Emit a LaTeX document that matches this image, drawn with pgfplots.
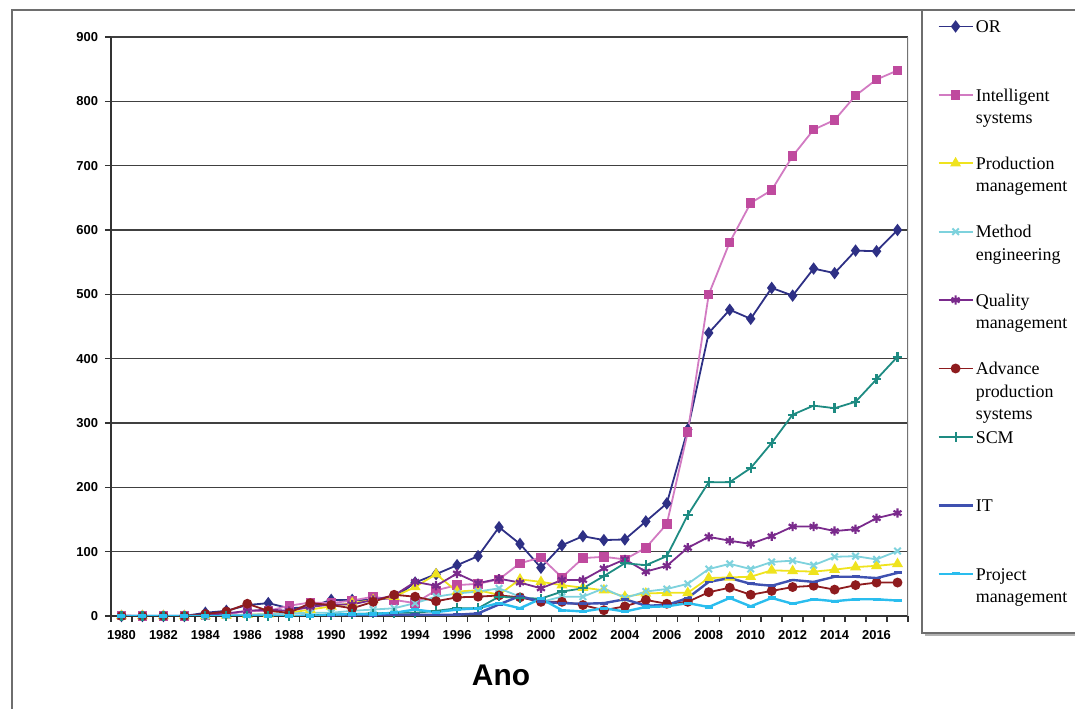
\documentclass[border=0pt]{standalone}
\usepackage{pgfplots}
\pgfplotsset{compat=1.18}
\usepackage{pgfplotstable}
\usepackage{fontspec}
\setmainfont{Liberation Serif}
\setsansfont{Liberation Sans}

\definecolor{ornavy}{HTML}{2E3085}
\definecolor{isline}{HTML}{D27BC2}
\definecolor{ismark}{HTML}{BF4A9E}
\definecolor{pmyel}{HTML}{EFE31E}
\definecolor{mecyan}{HTML}{7ED2DD}
\definecolor{qmpurp}{HTML}{7A2A8C}
\definecolor{apsred}{HTML}{8E1B1E}
\definecolor{scmteal}{HTML}{1E8B82}
\definecolor{itblue}{HTML}{3F51B0}
\definecolor{pjblue}{HTML}{2ABDEE}
\definecolor{frame}{HTML}{6E6E6E}

% publications per year and area
\pgfplotstableread{
year OR  IS  PM  ME  QM  APS SCM IT  PJ
1980 0   1   0   0   0   0   0   0   0
1981 0   0   0   0   0   0   0   0   0
1982 0   0   0   0   0   0   0   0   0
1983 0   0   0   0   0   0   0   0   0
1984 5   1   0   0   2   3   0   0   0
1985 8   2   1   1   4   7   0   0   0
1986 17  8   2   2   8   19  0   0   0
1987 20  8   3   3   10  8   0   0   0
1988 12  16  5   4   8   5   0   0   0
1989 14  21  10  5   14  20  1   0   0
1990 25  20  15  5   18  17  2   0   2
1991 25  24  20  8   18  12  3   1   3
1992 25  30  25  10  25  22  4   1   3
1993 28  25  30  12  32  33  5   2   5
1994 52  20  45  20  53  30  5   2   10
1995 65  40  65  30  47  23  8   2   6
1996 79  48  38  35  66  29  12  2   10
1997 93  50  40  38  51  30  12  4   12
1998 138 57  33  43  58  32  30  18  20
1999 112 82  57  30  52  29  28  31  12
2000 75  91  53  22  43  22  27  22  27
2001 110 60  48  30  56  22  38  20  9
2002 124 90  44  30  56  17  43  19  7
2003 118 92  40  43  74  9   62  20  12
2004 119 88  30  28  88  15  82  26  7
2005 147 106 35  38  69  25  79  16  14
2006 175 143 36  42  78  19  93  17  15
2007 290 286 36  50  106 22  157 28  20
2008 440 500 59  73  123 37  208 53  14
2009 476 581 60  81  117 44  208 59  28
2010 462 642 61  73  112 33  230 50  15
2011 510 662 71  84  124 39  269 47  28
2012 498 715 70  86  139 45  313 56  19
2013 540 756 69  79  139 47  327 53  26
2014 533 771 72  92  132 41  323 61  23
2015 568 809 76  93  135 48  333 61  26
2016 567 834 78  88  152 52  368 59  26
2017 600 848 81  101 160 52  403 67  24
}\data

\newcommand{\lent}[1]{\parbox[t]{48bp}{\strut #1}}

\begin{document}
\begin{tikzpicture}
\path[use as bounding box] (0,0) rectangle (537.5bp,354.5bp);
\begin{axis}[
  at={(55.5bp,46.5bp)}, anchor=south west,
  scale only axis, width=398.5bp, height=289.5bp,
  xmin=1979.5, xmax=2017.5, ymin=0, ymax=900,
  xtick={1980,1982,...,2016},
  minor xtick={1979.5,1980.5,...,2017.5},
  ytick={0,100,...,900},
  axis lines=left, axis line style={-, draw=black!80, line width=0.9bp},
  tick align=outside, major tick length=3bp, minor tick length=3bp,
  major x tick style={draw=none},
  tick style={black!80, line width=0.7bp},
  ymajorgrids, grid style={draw=black!75, line width=0.75bp},
  /pgf/number format/assume math mode=true,
  /pgf/number format/1000 sep={},
  tick label style={font=\sffamily\bfseries\fontsize{6.5}{7}\selectfont},
  xticklabel style={yshift=-0.5bp},
  xlabel={Ano},
  xlabel style={font=\sffamily\bfseries\fontsize{15}{18}\selectfont,
    at={(axis description cs:0.4893,-0.1019)}, anchor=center},
  every axis plot/.append style={line width=0.9bp},
  legend cell align=left,
  legend style={at={(1.03638,1.0385)}, anchor=north west, draw=none, fill=none,
    inner sep=0pt, row sep=22.9bp, nodes={inner sep=1bp},
    font=\rmfamily\fontsize{9}{11.2}\selectfont},
]
\addplot[ornavy, mark=diamond*, mark size=2.4bp, mark options={solid, fill=ornavy}]
  table[x=year, y=OR] {\data};
\addlegendentry{\lent{OR}}
\addplot[isline, mark=square*, mark size=1.9bp, mark options={solid, draw=ismark, fill=ismark}]
  table[x=year, y=IS] {\data};
\addlegendentry{\lent{Intelligent\\systems}}
\addplot[pmyel, mark=triangle*, mark size=2.3bp, mark options={solid, fill=pmyel}]
  table[x=year, y=PM] {\data};
\addlegendentry{\lent{Production\\management}}
\addplot[mecyan, mark=x, mark size=2.3bp, mark options={solid, line width=1bp}]
  table[x=year, y=ME] {\data};
\addlegendentry{\lent{Method\\engineering}}
\addplot[qmpurp, mark=asterisk, mark size=2.3bp, mark options={solid, line width=1.1bp}]
  table[x=year, y=QM] {\data};
\addlegendentry{\lent{Quality\\management}}
\addplot[apsred, mark=*, mark size=2bp, mark options={solid, fill=apsred}]
  table[x=year, y=APS] {\data};
\addlegendentry{\lent{Advance\\production\\systems}}
\addplot[scmteal, mark=+, mark size=2.4bp, mark options={solid, line width=1.1bp}]
  table[x=year, y=SCM] {\data};
\addlegendentry{\lent{SCM}}
\addplot[itblue, line width=1.2bp, mark=-, mark size=2bp, mark options={solid, line width=1.4bp}]
  table[x=year, y=IT] {\data};
\addlegendentry{\lent{IT}}
\addplot[pjblue, line width=1.2bp, mark=-, mark size=2bp, mark options={solid, line width=1.6bp}]
  table[x=year, y=PJ] {\data};
\addlegendentry{\lent{Project\\management}}
\draw[black!55, line width=0.8bp] (rel axis cs:1,0) -- (rel axis cs:1,1);
\end{axis}
% chart frame and legend box
\draw[frame, line width=0.8bp] (6bp,0) -- (6bp,349.5bp) -- (537.5bp,349.5bp);
\draw[black!30, line width=1.4bp] (462.5bp,37.2bp) -- (540bp,37.2bp);
\draw[frame, line width=0.8bp] (540bp,38bp) -- (461bp,38bp) -- (461bp,349.5bp);
\end{tikzpicture}
\end{document}
